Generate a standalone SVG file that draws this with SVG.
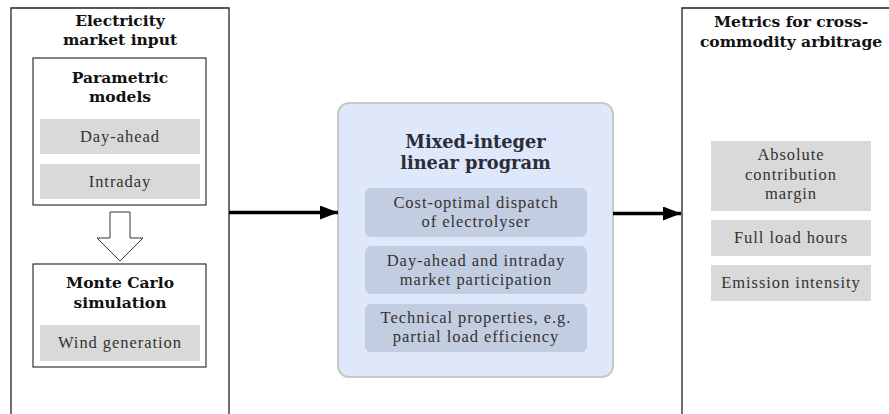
<svg xmlns="http://www.w3.org/2000/svg" width="889" height="414" viewBox="0 0 889 414">
<style>
text { font-family: "DejaVu Serif", "Liberation Serif", serif; text-anchor: middle; }
.t { font-size: 15.5px; font-weight: bold; fill: #111; }
.b { font-family: "Liberation Serif", "DejaVu Serif", serif; font-size: 16.5px; letter-spacing: 0.95px; fill: #333; }
.big { font-size: 17.8px; font-weight: bold; fill: #2a2d3a; }
.frame { fill: none; stroke: #222; stroke-width: 1.3; }
.box { fill: #fff; stroke: #333; stroke-width: 1.2; }
.gray { fill: #d9d9d9; }
.blue { fill: #c3cde1; }
.conn { stroke: #000; stroke-width: 3.5; fill: none; }
</style>
<defs>
<marker id="ah" markerUnits="userSpaceOnUse" markerWidth="18" markerHeight="14" refX="18" refY="7" orient="auto">
<path d="M0,0 L18,7 L0,14 z" fill="#000"/>
</marker>
</defs>
<rect width="889" height="414" fill="#fff"/>

<g id="input">
<path class="frame" d="M11,420 V8 H229 V420"/>
<text class="t" x="120" y="26">Electricity</text>
<text class="t" x="120" y="45">market input</text>
</g>

<g id="parametric">
<rect class="box" x="33" y="58" width="173" height="147"/>
<text class="t" x="120" y="83">Parametric</text>
<text class="t" x="120" y="102">models</text>
<rect class="gray" x="40" y="119" width="160" height="35"/>
<text class="b" x="120" y="142">Day-ahead</text>
<rect class="gray" x="40" y="164" width="160" height="35"/>
<text class="b" x="120" y="187">Intraday</text>
</g>

<g id="flow-arrow">
<polygon points="110,212 130,212 130,238 143,238 120,261 97,238 110,238" fill="#fff" stroke="#333" stroke-width="1"/>
</g>

<g id="montecarlo">
<rect class="box" x="33" y="264" width="173" height="103"/>
<text class="t" x="120" y="288">Monte Carlo</text>
<text class="t" x="120" y="308">simulation</text>
<rect class="gray" x="40" y="325" width="160" height="36"/>
<text class="b" x="120" y="348">Wind generation</text>
</g>

<g id="milp">
<rect x="338" y="103" width="275" height="274" rx="11" fill="#dfe8fb" stroke="#c8c8c8" stroke-width="2"/>
<text class="big" x="475.5" y="148">Mixed-integer</text>
<text class="big" x="475.5" y="169">linear program</text>
<rect class="blue" x="365" y="188" width="222" height="49" rx="6"/>
<text class="b" x="476" y="208">Cost-optimal dispatch</text>
<text class="b" x="476" y="227">of electrolyser</text>
<rect class="blue" x="365" y="246" width="222" height="48" rx="6"/>
<text class="b" x="476" y="266">Day-ahead and intraday</text>
<text class="b" x="476" y="285">market participation</text>
<rect class="blue" x="365" y="304" width="222" height="48" rx="6"/>
<text class="b" x="476" y="323">Technical properties, e.g.</text>
<text class="b" x="476" y="342">partial load efficiency</text>
</g>

<g id="metrics">
<path class="frame" d="M682,420 V8 H895"/>
<text class="t" x="791" y="27">Metrics for cross-</text>
<text class="t" x="791" y="47">commodity arbitrage</text>
<rect class="gray" x="711" y="141" width="160" height="70"/>
<text class="b" x="791" y="160">Absolute</text>
<text class="b" x="791" y="180">contribution</text>
<text class="b" x="791" y="199">margin</text>
<rect class="gray" x="711" y="220" width="160" height="36"/>
<text class="b" x="791" y="243">Full load hours</text>
<rect class="gray" x="711" y="265" width="160" height="36"/>
<text class="b" x="791" y="288">Emission intensity</text>
</g>

<g id="connectors">
<line class="conn" x1="229" y1="212.5" x2="338" y2="212.5" marker-end="url(#ah)"/>
<line class="conn" x1="613" y1="213.5" x2="681" y2="213.5" marker-end="url(#ah)"/>
</g>
</svg>
